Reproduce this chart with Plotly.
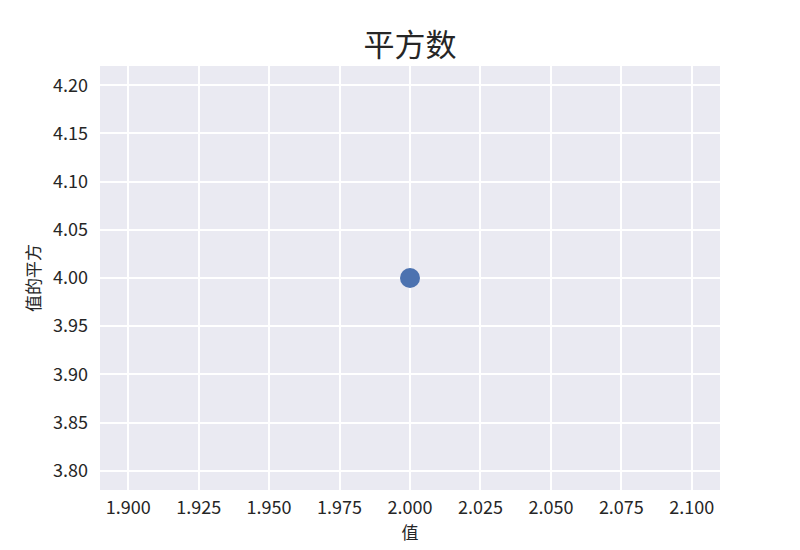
import plotly.graph_objects as go

# data
x_vals = [2]
y_vals = [4]

title_text = "平方数"
x_title = "值"
y_title = "值的平方"

font_cn = "Noto Sans CJK SC"
text_col = "#262626"

fig = go.Figure()
fig.add_trace(go.Scatter(x=x_vals, y=y_vals, mode="markers",
                         marker=dict(size=20, color="#4C72B0",
                                     line=dict(width=0)),
                         showlegend=False))

# page has an 8px body margin, so the figure is a bit smaller than the window
fig.update_layout(
    width=792, height=542,
    margin=dict(l=92, r=80, t=58, b=60),
    paper_bgcolor="white",
    plot_bgcolor="#EAEAF2",
    font=dict(family=font_cn, color=text_col),
    title=dict(text=title_text, x=0.5076, xanchor="center",
               y=0.932, yanchor="middle",
               font=dict(size=31, family=font_cn, color=text_col)),
)

fig.update_xaxes(range=[1.89, 2.11], dtick=0.025, tick0=1.9, tickformat=".3f",
                 showgrid=True, gridcolor="white", gridwidth=1.5,
                 zeroline=False, showline=False, ticks="",
                 tickfont=dict(size=18), ticklabelstandoff=5,
                 title=dict(text=x_title, font=dict(size=17), standoff=0))
fig.update_yaxes(range=[3.78, 4.22], dtick=0.05, tick0=3.8, tickformat=".2f",
                 showgrid=True, gridcolor="white", gridwidth=1.5,
                 zeroline=False, showline=False, ticks="",
                 tickfont=dict(size=18), ticklabelstandoff=11,
                 title=dict(text=y_title, font=dict(size=17), standoff=8))

fig.write_html("out.html")
